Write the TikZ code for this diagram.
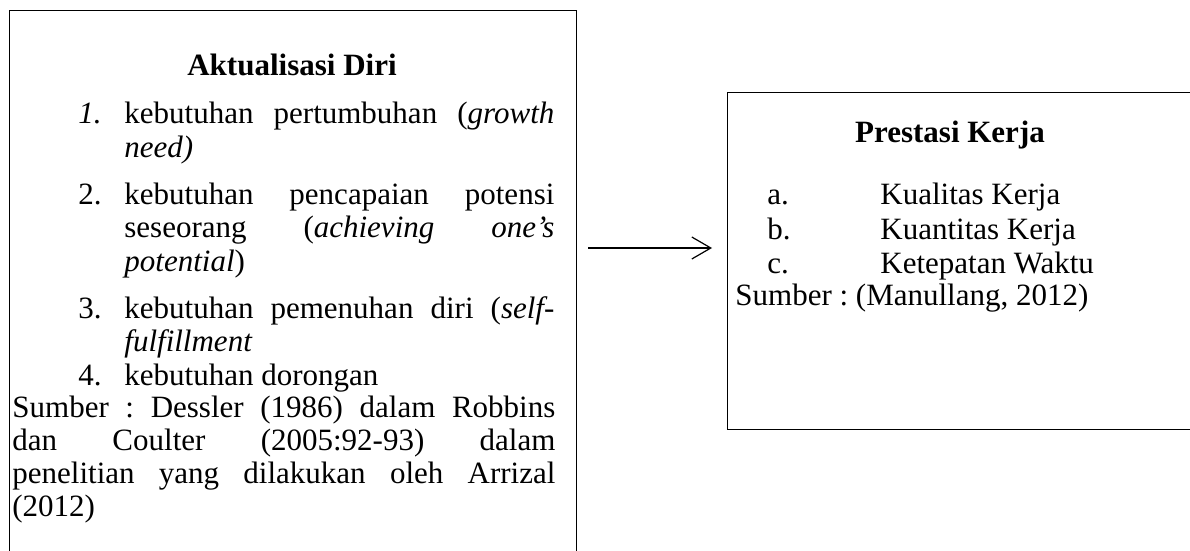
\documentclass[tikz,border=0pt]{standalone}
\usepackage{fontspec}
\setmainfont{Liberation Serif}
\usetikzlibrary{arrows.meta}
\frenchspacing
\begin{document}
\begin{tikzpicture}[x=0.5pt,y=-0.5pt,
  txt/.style={anchor=base west, inner sep=0pt, font=\fontsize{15.5}{17.6}\selectfont},
  ttl/.style={anchor=base, inner sep=0pt, font=\fontsize{15.5}{17.6}\selectfont\bfseries},
  frame/.style={draw, line width=0.55pt, inner sep=0pt, anchor=north west},
  arr/.style={-{Straight Barb[length=9.5pt,width=11pt,line width=0.6pt]}, line width=0.6pt}]
\useasboundingbox (0,0) rectangle (1190,551);
% boxes
\node[frame, minimum width=283.75pt, minimum height=280pt] (L) at (8.5,10) {};
\node[frame, minimum width=241.5pt, minimum height=168.5pt] (R) at (727,92) {};
% left box text
\node[ttl] (lt) at (292,76) {Aktualisasi Diri};
\node[txt] (n1) at (78,124) {\textit{1.}};
\node[txt] (l1) at (124,124) {\makebox[215pt][s]{kebutuhan pertumbuhan (\textit{growth}}};
\node[txt] (l2) at (124,158) {\textit{need)}};
\node[txt] (n2) at (78,205) {2.};
\node[txt] (l3) at (124,205) {\makebox[215pt][s]{kebutuhan pencapaian potensi}};
\node[txt] (l4) at (124,238) {\makebox[215pt][s]{seseorang (\textit{achieving one’s}}};
\node[txt] (l5) at (124,271) {\textit{potential})};
\node[txt] (n3) at (78,318) {3.};
\node[txt] (l6) at (124,318) {\makebox[215pt][s]{kebutuhan pemenuhan diri (\textit{self-}}};
\node[txt] (l7) at (124,351) {\textit{fulfillment}};
\node[txt] (n4) at (78,385) {4.};
\node[txt] (l8) at (124,385) {kebutuhan dorongan};
\node[txt] (s1) at (12,417) {\makebox[271.5pt][s]{Sumber : Dessler (1986) dalam Robbins}};
\node[txt] (s2) at (12,450) {\makebox[271.5pt][s]{dan Coulter (2005:92-93) dalam}};
\node[txt] (s3) at (12,483) {\makebox[271.5pt][s]{penelitian yang dilakukan oleh Arrizal}};
\node[txt] (s4) at (12,516) {(2012)};
% right box text
\node[ttl] (rt) at (950,143) {Prestasi Kerja};
\node[txt] (ra) at (767,205) {a.};
\node[txt] (ra2) at (880,205) {Kualitas Kerja};
\node[txt] (rb) at (767,240) {b.};
\node[txt] (rb2) at (880,240) {Kuantitas Kerja};
\node[txt] (rc) at (767,273) {c.};
\node[txt] (rc2) at (880,273) {Ketepatan Waktu};
\node[txt] (rs) at (735,306) {Sumber : (Manullang, 2012)};
% arrow
\coordinate (as) at (588,248);
\coordinate (ae) at (712,248);
\draw[arr] (as) -- (ae);
\end{tikzpicture}
\end{document}
